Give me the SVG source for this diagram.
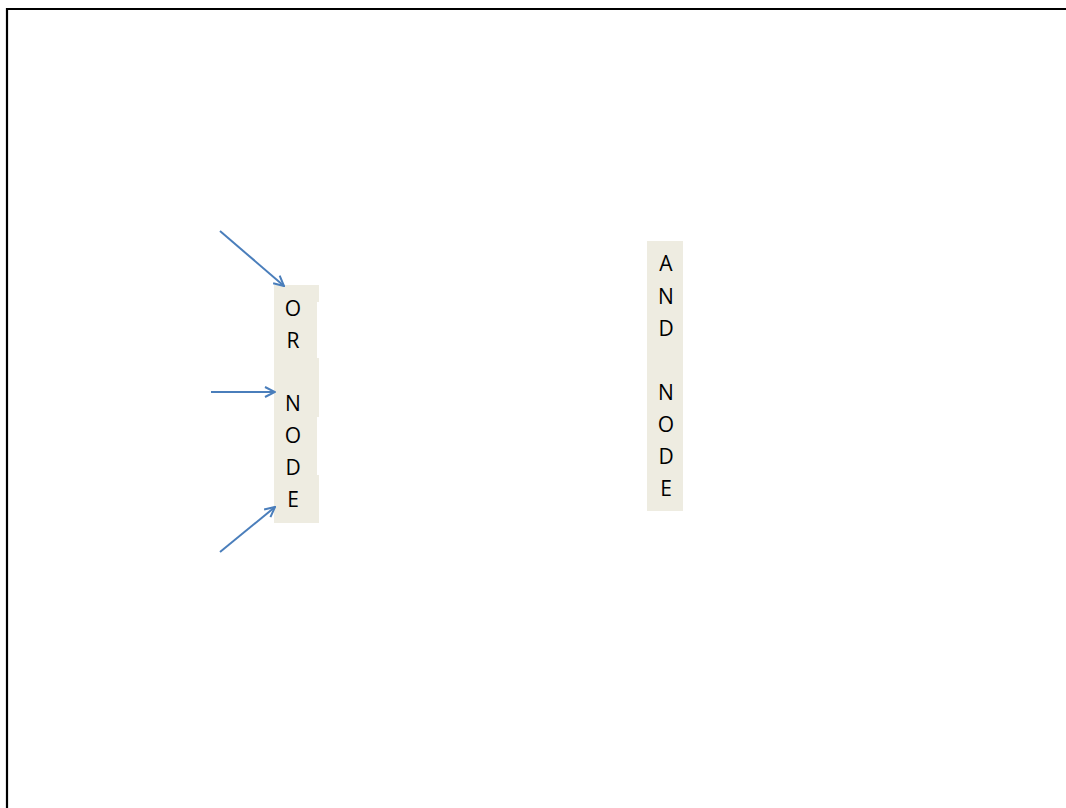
<svg xmlns="http://www.w3.org/2000/svg" width="1066" height="808" viewBox="0 0 1066 808">
<defs>
<style>
.nodebg{fill:#eeece1}
.lbl{font-family:"Open Sans","Liberation Sans",sans-serif;font-size:21px;fill:#000;text-anchor:middle}
.conn{stroke:#4a7ebb;stroke-width:2;fill:none}
</style>
<marker id="ah" viewBox="0 0 12 12" refX="11" refY="6" markerWidth="12" markerHeight="12" markerUnits="userSpaceOnUse" orient="auto">
<path d="M1,1 L11,6 L1,11" fill="none" stroke="#4a7ebb" stroke-width="2"/>
</marker>
</defs>
<rect width="1066" height="808" fill="#fff"/>
<path d="M7,808 L7,9 L1066,9" fill="none" stroke="#000" stroke-width="2.2"/>
<g id="or-node">
<rect class="nodebg" x="274" y="285" width="43" height="238"/>
<rect class="nodebg" x="317" y="285" width="2" height="17"/>
<rect class="nodebg" x="317" y="358" width="2" height="59"/>
<rect class="nodebg" x="317" y="475" width="2" height="48"/>
<text class="lbl" x="293" y="316">O</text>
<text class="lbl" x="293" y="348">R</text>
<text class="lbl" x="293" y="411">N</text>
<text class="lbl" x="293" y="443">O</text>
<text class="lbl" x="293" y="475">D</text>
<text class="lbl" x="293" y="507">E</text>
</g>
<g id="and-node">
<rect class="nodebg" x="647" y="241" width="36" height="270"/>
<text class="lbl" x="666" y="271">A</text>
<text class="lbl" x="666" y="304">N</text>
<text class="lbl" x="666" y="336">D</text>
<text class="lbl" x="666" y="400">N</text>
<text class="lbl" x="666" y="432">O</text>
<text class="lbl" x="666" y="464">D</text>
<text class="lbl" x="666" y="496">E</text>
</g>
<g id="connectors">
<line class="conn" x1="220" y1="231" x2="284" y2="286" marker-end="url(#ah)"/>
<line class="conn" x1="211" y1="392" x2="275" y2="392" marker-end="url(#ah)"/>
<line class="conn" x1="220" y1="552" x2="275" y2="507" marker-end="url(#ah)"/>
</g>
</svg>
